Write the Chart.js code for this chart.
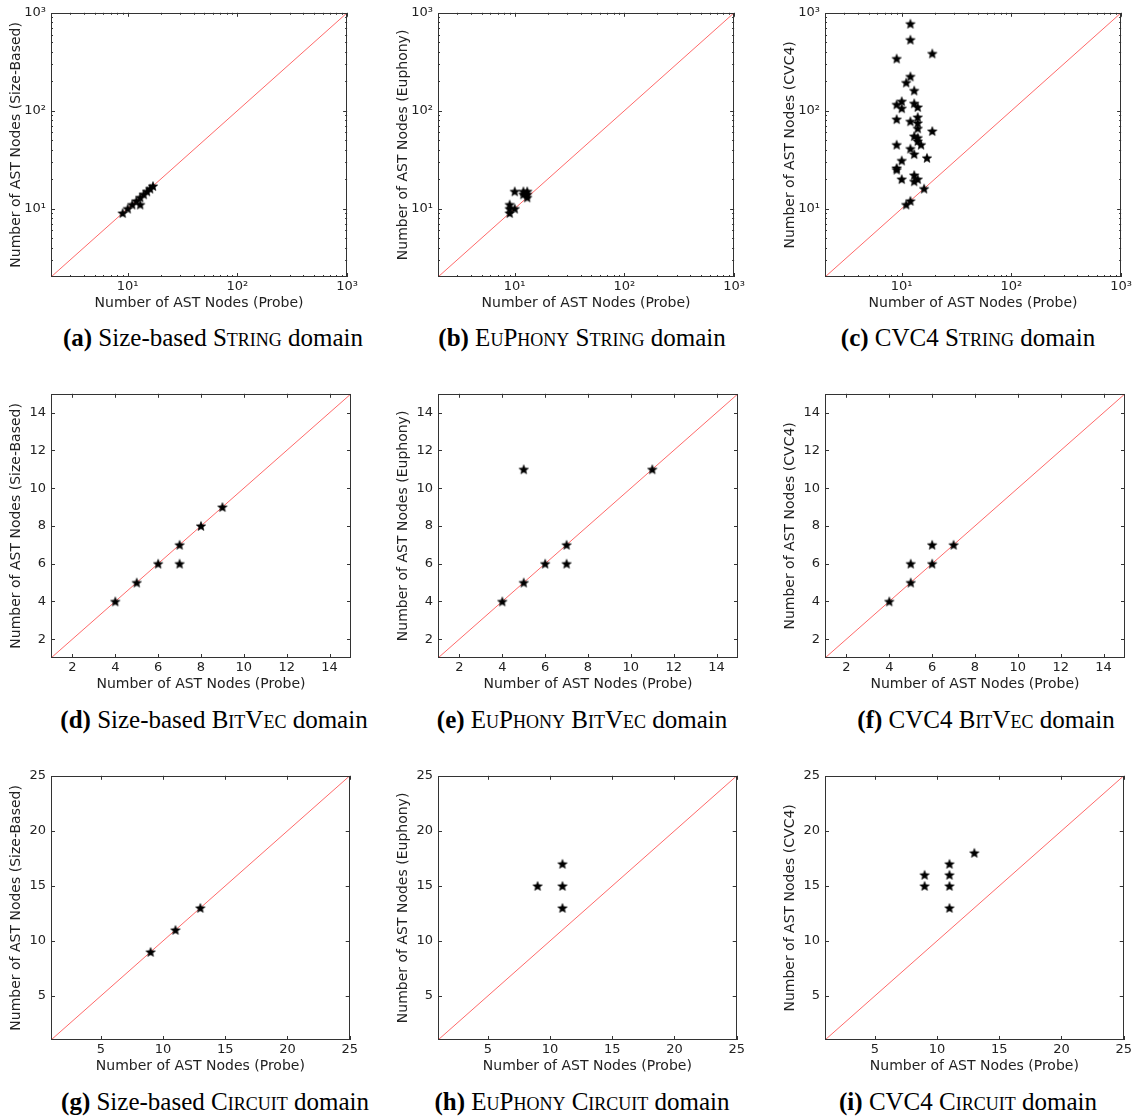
<!DOCTYPE html>
<html>
<head>
<meta charset="utf-8">
<script src="https://cdn.jsdelivr.net/npm/chart.js@4.4.1/dist/chart.umd.min.js"></script>
<style>
  body { margin: 0; background: #fff; width: 1138px; height: 1120px; position: relative; overflow: hidden; }
  .panel { position: absolute; width: 360px; height: 315px; }
  .cap { position: absolute; transform: translate(-50%, -50%); font-family: "Liberation Serif", "Times New Roman", serif;
         font-size: 25px; white-space: nowrap; color: #000; }
  .sc { font-variant: small-caps; }
</style>
</head>
<body>
<div class="panel" style="left:0;top:0"><canvas id="pa" width="360" height="315"></canvas></div>
<div class="panel" style="left:387px;top:0"><canvas id="pb" width="360" height="315"></canvas></div>
<div class="panel" style="left:774px;top:0"><canvas id="pc" width="360" height="315"></canvas></div>
<div class="panel" style="left:0;top:381px"><canvas id="pd" width="360" height="315"></canvas></div>
<div class="panel" style="left:387px;top:381px"><canvas id="pe" width="360" height="315"></canvas></div>
<div class="panel" style="left:774px;top:381px"><canvas id="pf" width="360" height="315"></canvas></div>
<div class="panel" style="left:0;top:763px"><canvas id="pg" width="360" height="315"></canvas></div>
<div class="panel" style="left:387px;top:763px"><canvas id="ph" width="360" height="315"></canvas></div>
<div class="panel" style="left:774px;top:763px"><canvas id="pi" width="360" height="315"></canvas></div>

<div class="cap" style="left:213px;top:338px"><b>(a)</b> Size-based <span class="sc">String</span> domain</div>
<div class="cap" style="left:582px;top:338px"><b>(b)</b> <span class="sc">EuPhony String</span> domain</div>
<div class="cap" style="left:968px;top:338px"><b>(c)</b> CVC4 <span class="sc">String</span> domain</div>
<div class="cap" style="left:214px;top:720px"><b>(d)</b> Size-based <span class="sc">BitVec</span> domain</div>
<div class="cap" style="left:582px;top:720px"><b>(e)</b> <span class="sc">EuPhony BitVec</span> domain</div>
<div class="cap" style="left:986px;top:720px"><b>(f)</b> CVC4 <span class="sc">BitVec</span> domain</div>
<div class="cap" style="left:215px;top:1102px"><b>(g)</b> Size-based <span class="sc">Circuit</span> domain</div>
<div class="cap" style="left:582px;top:1102px"><b>(h)</b> <span class="sc">EuPhony Circuit</span> domain</div>
<div class="cap" style="left:968px;top:1102px"><b>(i)</b> CVC4 <span class="sc">Circuit</span> domain</div>

<script>
// axis ranges and ticks
const stringRange = [2, 1000];
const bitvecRange = [1, 15];
const circuitRange = [1, 25];
const logTicks = [10, 100, 1000];
const logTickLabels = ['10¹', '10²', '10³'];
const bitvecTicks = [2, 4, 6, 8, 10, 12, 14];
const circuitTicks = [5, 10, 15, 20, 25];

// STRING domain (probe size vs other solver size)
const strSizeProbe = [9, 10, 11, 12, 13, 14, 15, 16, 17, 13];
const strSizeOther = [9, 10, 11, 12, 13, 14, 15, 16, 17, 11];
const strEuphProbe = [9, 9, 9, 10, 10, 12, 12, 13, 13, 13];
const strEuphOther = [11, 10, 9, 10, 15, 14, 15, 15, 14, 13];
const strCvcProbe = [12, 12, 19, 9, 12, 11, 13, 10, 9, 10, 13, 14, 14, 9, 12, 14, 14, 19,
                     13, 14, 14, 15, 9, 12, 13, 17, 10, 9, 9, 10, 13, 14, 13, 16, 12, 11];
const strCvcOther = [773, 532, 384, 341, 224, 194, 161, 125, 116, 106, 119, 109, 86, 82, 78, 75, 66, 62,
                     55, 53, 49, 45, 45, 41, 36, 33, 31, 26, 25, 20, 22, 20, 19, 16, 12, 11];

// BITVEC domain
const bvSizeProbe = [4, 5, 6, 7, 7, 8, 9];
const bvSizeOther = [4, 5, 6, 7, 6, 8, 9];
const bvEuphProbe = [4, 5, 5, 6, 7, 7, 11];
const bvEuphOther = [4, 5, 11, 6, 7, 6, 11];
const bvCvcProbe = [4, 5, 5, 6, 6, 7];
const bvCvcOther = [4, 5, 6, 6, 7, 7];

// CIRCUIT domain
const circSizeProbe = [9, 11, 13];
const circSizeOther = [9, 11, 13];
const circEuphProbe = [9, 11, 11, 11];
const circEuphOther = [15, 17, 15, 13];
const circCvcProbe = [9, 9, 11, 11, 11, 11, 13];
const circCvcOther = [16, 15, 17, 16, 15, 13, 18];

function starImg(r) {
  const c = document.createElement('canvas');
  const s = Math.ceil(r * 2) + 2;
  c.width = c.height = s;
  const g = c.getContext('2d');
  g.beginPath();
  for (let i = 0; i < 10; i++) {
    const rr = i % 2 ? r * 0.45 : r;
    const a = -Math.PI / 2 + i * Math.PI / 5;
    g.lineTo(s / 2 + rr * Math.cos(a), s / 2 + 0.5 + rr * Math.sin(a));
  }
  g.closePath();
  g.fillStyle = '#000';
  g.fill();
  g.strokeStyle = '#000';
  g.lineWidth = 0.5;
  g.stroke();
  return c;
}
const star = starImg(5);

// frame with inward ticks on all four sides, like the old matplotlib style
const frame = {
  id: 'frame',
  afterDraw(chart, args, opts) {
    const { ctx, chartArea: a } = chart;
    const xs = chart.scales.x, ys = chart.scales.y;
    ctx.save();
    ctx.strokeStyle = '#333';
    ctx.lineWidth = 1;
    ctx.beginPath();
    const xt = (v, len) => {
      const p = Math.round(xs.getPixelForValue(v)) + 0.5;
      ctx.moveTo(p, a.bottom); ctx.lineTo(p, a.bottom - len);
      ctx.moveTo(p, a.top); ctx.lineTo(p, a.top + len);
    };
    const yt = (v, len) => {
      const p = Math.round(ys.getPixelForValue(v)) + 0.5;
      ctx.moveTo(a.left, p); ctx.lineTo(a.left + len, p);
      ctx.moveTo(a.right, p); ctx.lineTo(a.right - len, p);
    };
    opts.major.forEach(v => { xt(v, 4); yt(v, 4); });
    opts.minor.forEach(v => { xt(v, 2); yt(v, 2); });
    ctx.stroke();
    ctx.strokeRect(Math.round(a.left) + 0.5, Math.round(a.top) + 0.5,
                   Math.round(a.right - a.left) - 1, Math.round(a.bottom - a.top) - 1);
    ctx.restore();
  }
};

function makeChart(id, probe, other, who, kind) {
  const isLog = kind === 'log';
  const range = isLog ? stringRange : kind === 'bv' ? bitvecRange : circuitRange;
  const major = isLog ? logTicks : kind === 'bv' ? bitvecTicks : circuitTicks;
  const minor = [];
  if (isLog) {
    [1, 10, 100].forEach(d => {
      for (let k = 2; k <= 9; k++) if (k * d > range[0] && k * d < range[1]) minor.push(k * d);
    });
  }
  const tickFont = { family: 'DejaVu Sans', size: 13 };
  const titleFont = { family: 'DejaVu Sans', size: 14 };
  const label = v => {
    const i = major.indexOf(v);
    if (i < 0) return '';
    return isLog ? logTickLabels[i] : String(v);
  };
  const axis = (title, horiz) => ({
    type: isLog ? 'logarithmic' : 'linear',
    min: range[0],
    max: range[1],
    grid: { display: false, drawTicks: false },
    border: { display: false },
    afterBuildTicks: s => { s.ticks = major.map(v => ({ value: v })); },
    afterFit: s => { if (horiz) s.height = 38; else s.width = 51; },
    ticks: {
      font: tickFont, color: '#222', padding: horiz ? 2 : 5,
      maxRotation: 0, autoSkip: false,
      callback: v => label(v)
    },
    title: {
      display: true, text: title, font: titleFont, color: '#222',
      padding: horiz ? { top: 0, bottom: 3 } : { top: 8, bottom: 0 }
    }
  });
  new Chart(document.getElementById(id), {
    type: 'scatter',
    data: {
      datasets: [
        {
          data: probe.map((x, i) => ({ x: x, y: other[i] })),
          pointStyle: star,
          pointRadius: 5
        },
        {
          data: range.map(v => ({ x: v, y: v })),
          showLine: true,
          borderColor: 'rgb(255, 105, 105)',
          borderWidth: 1,
          pointRadius: 0
        }
      ]
    },
    options: {
      responsive: false,
      animation: false,
      layout: { padding: { top: 11, right: 9, left: 0, bottom: 0 } },
      plugins: { legend: { display: false }, tooltip: { enabled: false }, frame: { major: major, minor: minor } },
      scales: {
        x: axis('Number of AST Nodes (Probe)', true),
        y: axis('Number of AST Nodes (' + who + ')', false)
      }
    },
    plugins: [frame]
  });
}

makeChart('pa', strSizeProbe, strSizeOther, 'Size-Based', 'log');
makeChart('pb', strEuphProbe, strEuphOther, 'Euphony', 'log');
makeChart('pc', strCvcProbe, strCvcOther, 'CVC4', 'log');
makeChart('pd', bvSizeProbe, bvSizeOther, 'Size-Based', 'bv');
makeChart('pe', bvEuphProbe, bvEuphOther, 'Euphony', 'bv');
makeChart('pf', bvCvcProbe, bvCvcOther, 'CVC4', 'bv');
makeChart('pg', circSizeProbe, circSizeOther, 'Size-Based', 'circ');
makeChart('ph', circEuphProbe, circEuphOther, 'Euphony', 'circ');
makeChart('pi', circCvcProbe, circCvcOther, 'CVC4', 'circ');
</script>
</body>
</html>
